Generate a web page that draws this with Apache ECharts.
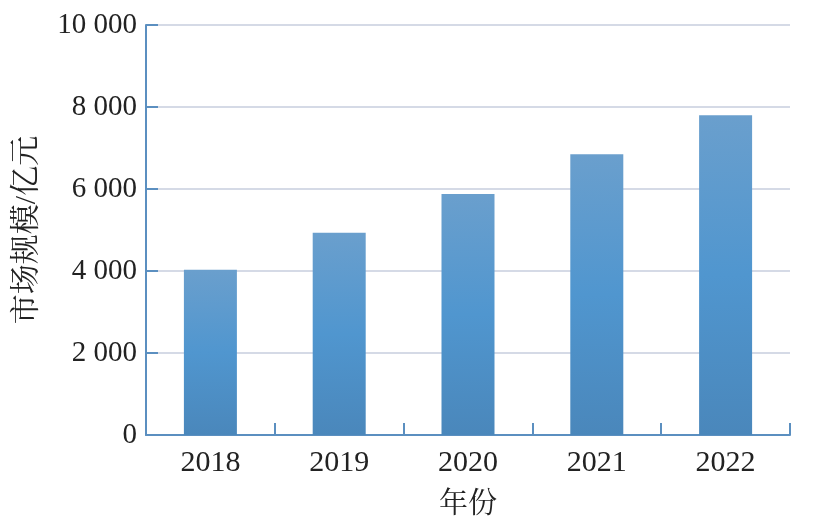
<!DOCTYPE html>
<html><head><meta charset="utf-8">
<script src="https://cdn.jsdelivr.net/npm/echarts@6/dist/echarts.min.js"></script>
<style>html,body{margin:0;padding:0;background:#fff}#c{width:813px;height:525px}</style>
</head><body><div id="c"></div>
<script>
const categories = ['2018','2019','2020','2021','2022'];
const marketSize = [4030, 4930, 5880, 6850, 7800];
const yTicks = [0, 2000, 4000, 6000, 8000, 10000];
const FONT = '"Liberation Serif", "Times New Roman", "Noto Serif CJK SC", "Noto Sans CJK SC", serif';
const chart = echarts.init(document.getElementById('c'));
chart.setOption({
  animation: false,
  grid: {left: 146, right: 23, top: 25, bottom: 90},
  xAxis: {
    type: 'category', data: categories,
    name: '年份', nameLocation: 'middle', nameGap: 56,
    nameTextStyle: {fontFamily: FONT, fontSize: 29, color: '#222'},
    axisLine: {lineStyle: {color: '#5b8fc0', width: 2}},
    axisTick: {show: true, inside: true, length: 12, alignWithLabel: false, lineStyle: {color: '#5b8fc0', width: 2}},
    axisLabel: {fontFamily: FONT, fontSize: 30, color: '#222', margin: 13}
  },
  yAxis: {
    type: 'value', min: yTicks[0], max: yTicks[yTicks.length-1], interval: 2000,
    name: '市场规模/亿元', nameLocation: 'middle', nameGap: 104, nameRotate: 90,
    nameTextStyle: {fontFamily: FONT, fontSize: 30, color: '#222'},
    axisLine: {show: true, lineStyle: {color: '#5b8fc0', width: 2}},
    axisTick: {show: true, inside: true, length: 12, lineStyle: {color: '#5b8fc0', width: 2}},
    axisLabel: {fontFamily: FONT, fontSize: 29, color: '#222', margin: 9,
      formatter: v => String(v).replace(/\B(?=(\d{3})+(?!\d))/g, ' ')},
    splitLine: {lineStyle: {color: '#d5dae6', width: 2}}
  },
  series: [{
    type: 'bar', data: marketSize, barWidth: 53,
    itemStyle: {color: new echarts.graphic.LinearGradient(0,0,0,1,[
      {offset: 0, color: '#6a9fcd'},
      {offset: 0.5, color: '#5096cf'},
      {offset: 1, color: '#4a87bb'}
    ])}
  }]
});
</script></body></html>
